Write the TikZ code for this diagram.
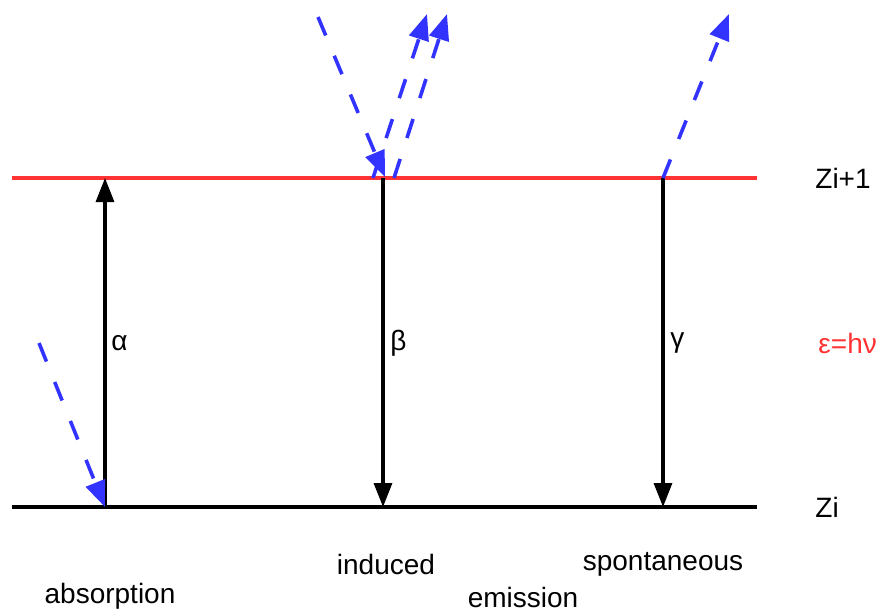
\documentclass[tikz,border=0pt]{standalone}
\usepackage{fontspec}
\setmainfont{Liberation Sans}
\usetikzlibrary{arrows.meta}
\definecolor{lvlred}{HTML}{FF3333}
\definecolor{photonblue}{HTML}{3333FF}
\tikzset{
  lvl/.style   ={line width=1.6pt},
  trans/.style ={-{Triangle[length=12pt,width=9pt]}, line width=1.6pt},
  photon/.style={-{Triangle[length=13pt,width=10pt]}, line width=1.8pt, color=photonblue,
                 dash pattern=on 10pt off 11pt},
  lbl/.style   ={font=\fontsize{14}{16}\selectfont, inner sep=0pt},
}
\begin{document}
\begin{tikzpicture}[x=0.5pt, y=-0.5pt]
  \useasboundingbox (0,0) rectangle (877,610);
  % energy levels
  \coordinate (up-l) at (12,178);  \coordinate (up-r) at (757,178);
  \coordinate (lo-l) at (12,507);  \coordinate (lo-r) at (757,507);
  \draw[lvl, lvlred] (up-l) -- (up-r);
  \draw[lvl] (lo-l) -- (lo-r);
  % transitions
  \coordinate (abs-lo) at (105,507);  \coordinate (abs-up) at (105,178);
  \coordinate (ind-up) at (383,178);  \coordinate (ind-lo) at (383,507);
  \coordinate (spo-up) at (663,178);  \coordinate (spo-lo) at (663,507);
  \draw[trans] (abs-lo) -- (abs-up);
  \draw[trans] (ind-up) -- (ind-lo);
  \draw[trans] (spo-up) -- (spo-lo);
  % photons
  \coordinate (abs-in) at (39,343);
  \coordinate (ind-in) at (318,17);
  \coordinate (ind-hit) at (385,177);
  \coordinate (ind-o1) at (373,178);  \coordinate (ind-t1) at (427,14);
  \coordinate (ind-o2) at (394,178);  \coordinate (ind-t2) at (447,14);
  \coordinate (spo-t) at (729,14);
  \draw[photon] (abs-in) -- (abs-lo);
  \draw[photon] (ind-in) -- (ind-hit);
  \draw[photon] (ind-o1) -- (ind-t1);
  \draw[photon] (ind-o2) -- (ind-t2);
  \draw[photon] (spo-up) -- (spo-t);
  % labels
  \node[lbl, anchor=west] (alpha) at (111,343) {α};
  \node[lbl, anchor=west] (beta) at (390,343) {β};
  \node[lbl, anchor=west] (gamma) at (670,343) {γ};
  \node[lbl, anchor=west] (zup) at (815,178) {Zi+1};
  \node[lbl, anchor=west] (zlo) at (815,507) {Zi};
  \node[lbl, anchor=west, text=lvlred] (eps) at (818,343) {ε=hν};
  \node[lbl] (absorb) at (110,596) {absorption};
  \node[lbl] (induced) at (386,564) {induced};
  \node[lbl] (spont) at (663,564) {spontaneous};
  \node[lbl] (emis) at (523,597) {emission};
\end{tikzpicture}
\end{document}
